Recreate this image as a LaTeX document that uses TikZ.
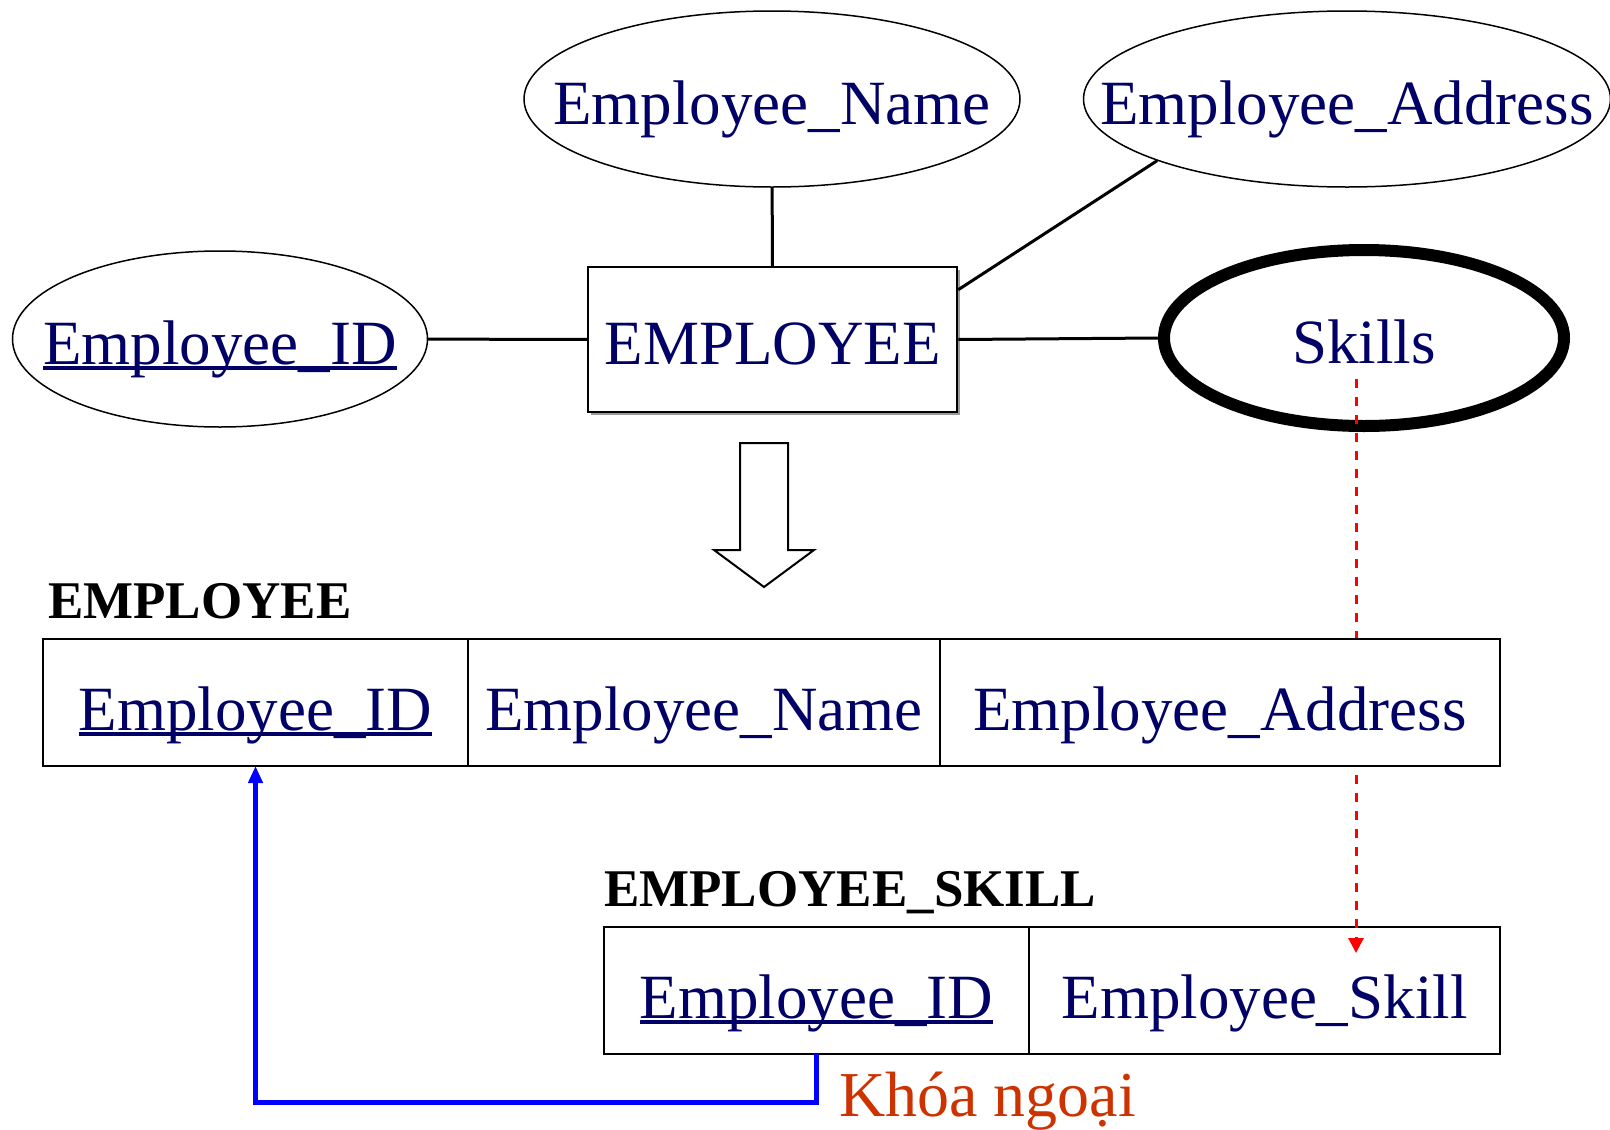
\documentclass[tikz,border=0pt]{standalone}
\usepackage{fontspec}
\setmainfont{Liberation Serif}
\usetikzlibrary{arrows.meta,positioning,calc,shapes.geometric,shadows}
\definecolor{ernavy}{RGB}{0,0,102}
\definecolor{fkorange}{RGB}{204,51,0}
% text that takes no width, so the ellipse keeps its own size
\newcommand\nowidth[1]{\makebox[0pt]{#1}}
% key attribute: rule drawn through the descenders
\newcommand\pkey[1]{\setbox0\hbox{#1}\rlap{\vrule width\wd0 height -2pt depth 6pt}\box0}

\tikzset{
  erfont/.style={font=\fontsize{63}{70}\selectfont},
  attribute/.style={ellipse,draw,line width=1.5pt,inner sep=0pt,
    minimum width=#1,minimum height=176pt,
    text height=50pt,text depth=0pt,text=ernavy,erfont},
  multiattr/.style={attribute=400pt,line width=12pt},
  entity/.style={rectangle,draw,line width=2.5pt,fill=white,inner sep=0pt,
    minimum width=369pt,minimum height=145pt,
    text height=50pt,text depth=0pt,text=ernavy,erfont,
    drop shadow={shadow xshift=3pt,shadow yshift=-3pt,fill=black!40,opacity=1}},
  cell/.style={rectangle,draw,line width=2pt,fill=white,outer sep=0pt,
    inner sep=0pt,minimum height=127pt,
    text height=55pt,text depth=0pt,text=ernavy,erfont},
  tabtitle/.style={anchor=base west,inner sep=0pt,
    font=\fontsize{53}{60}\selectfont\bfseries},
  link/.style={line width=3pt},
  fklink/.style={blue,line width=5pt,-{Triangle[width=14pt,length=17pt]}},
  mapflow/.style={red,line width=3pt,dash pattern=on 9pt off 9pt,
    -{Triangle[width=15pt,length=15pt]}}
}

\begin{document}
\begin{tikzpicture}[x=1pt,y=-1pt]
\useasboundingbox (0,0) rectangle (1610,1130);

% ER part
\node[attribute=496pt] (ename) at (772,99) {\nowidth{Employee\_Name}};
\node[attribute=527pt] (eaddr) at (1347,99) {\nowidth{Employee\_Address}};
\node[attribute=415pt] (eid) at (220,339) {\nowidth{\pkey{Employee\_ID}}};
\node[entity] (emp) at (772.5,339.5) {EMPLOYEE};
\node[multiattr] (skills) at (1364,338) {\nowidth{Skills}};

\draw[link] (eid) -- (emp);
\draw[link] (ename) -- (emp);
\draw[link] (emp.15) -- (eaddr.198.6);
\draw[link] (emp.east) -- (skills.west);

% mapping arrow
\draw[line width=2pt,fill=white]
  (740,443) -- (788,443) -- (788,550) -- (814,550) -- (764,587)
  -- (714,550) -- (740,550) -- cycle;

% EMPLOYEE_SKILL table
\node[tabtitle] (t2title) at (604,906) {EMPLOYEE\_SKILL};
\node[cell,minimum width=425pt] (t2id) at (816.5,990.5) {\pkey{Employee\_ID}};
\node[cell,minimum width=471pt,right=0pt of t2id] (t2skill) {Employee\_Skill};

% multivalued attribute goes to its own table
\coordinate (skillsfoot) at (1356,379);
\coordinate (skilltip) at (1356,953);
\draw[mapflow] (skillsfoot) -- (skilltip);

% EMPLOYEE table
\node[tabtitle] (t1title) at (48,618) {EMPLOYEE};
\node[cell,minimum width=425pt] (t1id) at (255.5,702.5) {\pkey{Employee\_ID}};
\node[cell,minimum width=472pt,right=0pt of t1id] (t1name) {Employee\_Name};
\node[cell,minimum width=560pt,right=0pt of t1name] (t1addr) {Employee\_Address};

% foreign key
\draw[fklink] (t2id.south) -- ++(0,48) -| (t1id.south);
\node[anchor=base west,inner sep=0pt,text=fkorange,
  font=\fontsize{64}{70}\selectfont] (fklabel) at (839,1116) {Khóa ngoại};
\end{tikzpicture}
\end{document}
